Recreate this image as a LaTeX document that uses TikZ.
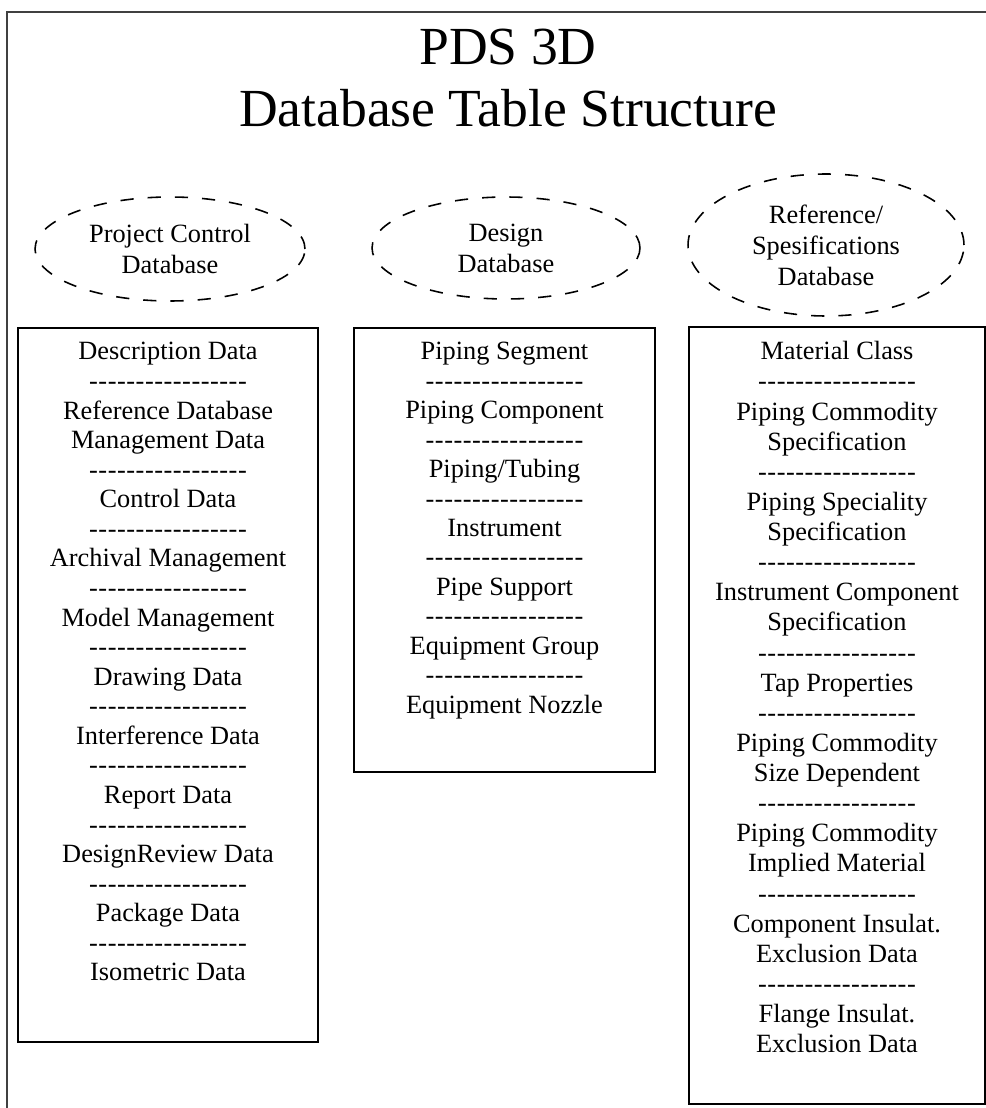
\documentclass[tikz,border=0pt]{standalone}
\usepackage{fontspec}
\setmainfont{Liberation Serif}
\usetikzlibrary{shapes.geometric, positioning}

\newcommand{\hy}{-\kern0.3pt}
\newcommand{\sepline}{\hy\hy\hy\hy\hy\hy\hy\hy\hy\hy\hy\hy\hy\hy\hy\hy-}

\begin{document}
\begin{tikzpicture}[x=0.02cm, y=-0.02cm,
    dbellipse/.style={ellipse, draw, line width=0.9pt, dash pattern=on 7.5pt off 8pt,
        align=center, font=\fontsize{15}{17.6}\selectfont},
    tablebox/.style={draw, line width=1.1pt, rectangle},
    tablelist/.style={anchor=north, inner sep=0pt, align=center},
    listfont/.style={font=\fontsize{15}{#1}\selectfont}]

    % Fix the page to the size of the sheet
    \useasboundingbox (0,0) rectangle (986,1108);

    % Sheet frame (only the top and left edges show)
    \draw[line width=0.6pt, black!75] (986,12) -- (7,12) -- (7,1108);

    % Title
    \node[align=center, font=\fontsize{30.5}{35.7}\selectfont] (title) at (508,78)
        {PDS 3D\\Database Table Structure};

    % The three databases
    \node[dbellipse, minimum width=5.4cm, minimum height=2.08cm] (pcdb) at (170,249)
        {Project Control\\Database};
    \node[dbellipse, minimum width=5.36cm, minimum height=2.04cm] (desdb) at (506,248)
        {Design\\Database};
    \node[dbellipse, minimum width=5.52cm, minimum height=2.84cm] (refdb) at (826,245)
        {Reference/\\Spesifications\\Database};

    % Table boxes under each database
    \node[tablebox, minimum width=6cm, minimum height=14.28cm] (pcbox) at (168,685) {};
    \node[tablebox, minimum width=6.02cm, minimum height=8.88cm] (desbox) at (504.5,550) {};
    \node[tablebox, minimum width=5.92cm, minimum height=15.54cm] (refbox) at (837,715.5) {};

    % Table names in each box
    \node[tablelist, listfont=16.83, below=0.3cm of pcbox.north] (pclist)
        {Description Data\\\sepline\\Reference Database\\Management Data\\\sepline\\
         Control Data\\\sepline\\Archival Management\\\sepline\\Model Management\\\sepline\\
         Drawing Data\\\sepline\\Interference Data\\\sepline\\Report Data\\\sepline\\
         DesignReview Data\\\sepline\\Package Data\\\sepline\\Isometric Data};

    \node[tablelist, listfont=16.75, below=0.3cm of desbox.north] (deslist)
        {Piping Segment\\\sepline\\Piping Component\\\sepline\\Piping/Tubing\\\sepline\\
         Instrument\\\sepline\\Pipe Support\\\sepline\\Equipment Group\\\sepline\\
         Equipment Nozzle};

    \node[tablelist, listfont=17.15, below=0.3cm of refbox.north] (reflist)
        {Material Class\\\sepline\\Piping Commodity\\Specification\\\sepline\\
         Piping Speciality\\Specification\\\sepline\\Instrument Component\\Specification\\\sepline\\
         Tap Properties\\\sepline\\Piping Commodity\\Size Dependent\\\sepline\\
         Piping Commodity\\Implied Material\\\sepline\\Component Insulat.\\Exclusion Data\\\sepline\\
         Flange Insulat.\\Exclusion Data};

\end{tikzpicture}
\end{document}
